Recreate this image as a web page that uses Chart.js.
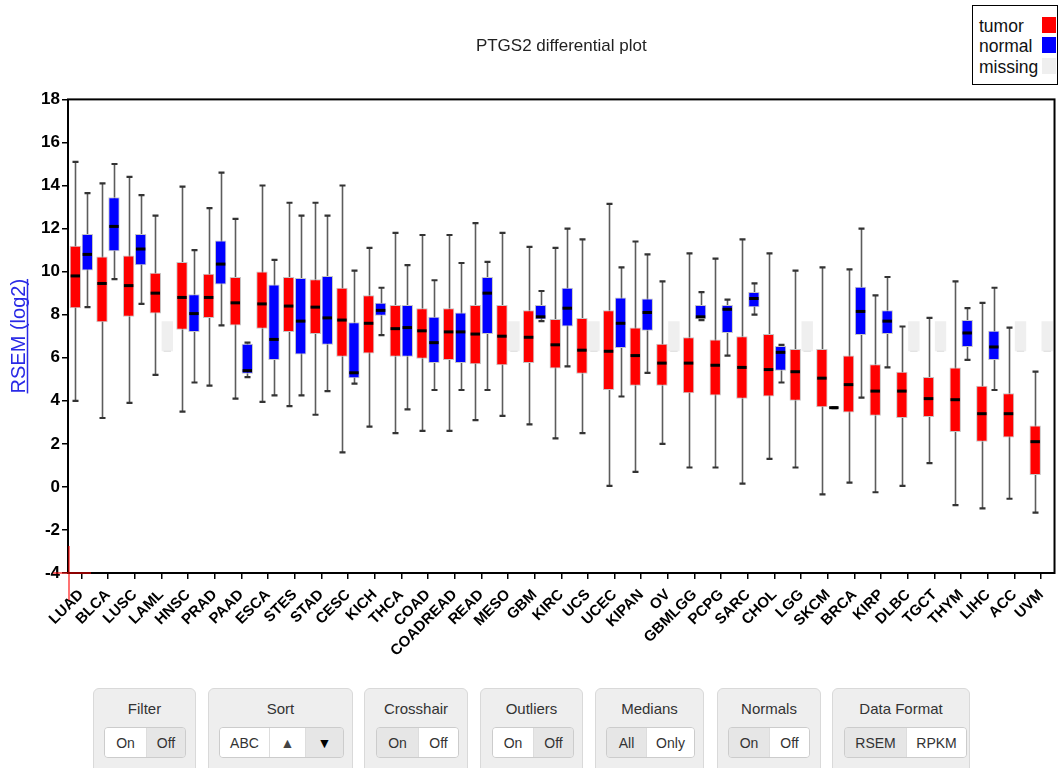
<!DOCTYPE html>
<html>
<head>
<meta charset="utf-8">
<title>PTGS2 differential plot</title>
<script src="https://cdn.jsdelivr.net/npm/chart.js@4.4.1/dist/chart.umd.min.js"></script>
<style>
  html, body { margin: 0; padding: 0; background: #fff; }
  body { width: 1061px; height: 768px; position: relative; overflow: hidden;
         font-family: 'Liberation Sans', Arial, sans-serif; }
  #plotWrap { position: absolute; left: 0; top: 0; width: 1061px; height: 680px; }
  #legendBox { position: absolute; left: 972px; top: 5px; width: 84px; height: 78px;
               border: 1px solid #000; background: #fff; }
  .lg-row { position: absolute; left: 6px; font-size: 17.5px; color: #111; line-height: 20px; }
  .lg-sw { position: absolute; left: 69px; width: 14px; height: 16px; }
  .ctl { position: absolute; top: 688px; height: 92px; background: #eee;
         border: 1px solid #d9d9d9; border-radius: 6px; box-sizing: border-box; }
  .ctl .cap { position: absolute; left: 0; right: 0; top: 11px; text-align: center;
              font-size: 15px; line-height: 18px; color: #333; }
  .ctl .grp { position: absolute; top: 38px; height: 31px; display: flex;
              border: 1px solid #ccc; border-radius: 4px; overflow: hidden; box-sizing: border-box; }
  .ctl .btn { height: 100%; display: flex; align-items: center; justify-content: center;
              font-size: 14px; color: #333; background: #fff; border-left: 1px solid #ddd;
              box-sizing: border-box; }
  .ctl .btn:first-child { border-left: none; }
  .ctl .btn.on { background: #e6e6e6; }
</style>
</head>
<body>
<div id="plotWrap"><canvas id="plot" width="1061" height="680"></canvas></div>

<div id="legendBox">
  <div class="lg-row" style="top:10px">tumor</div>
  <div class="lg-row" style="top:30px">normal</div>
  <div class="lg-row" style="top:51px">missing</div>
  <div class="lg-sw" style="top:11px;background:#ff0000"></div>
  <div class="lg-sw" style="top:31px;background:#0000ff"></div>
  <div class="lg-sw" style="top:52px;background:#efefef"></div>
</div>

<div class="ctl" style="left:93px;width:103px">
  <div class="cap">Filter</div>
  <div class="grp" style="left:10px"><div class="btn" style="width:41px">On</div><div class="btn on" style="width:39px">Off</div></div>
</div>
<div class="ctl" style="left:208px;width:145px">
  <div class="cap">Sort</div>
  <div class="grp" style="left:10px"><div class="btn" style="width:49px">ABC</div><div class="btn" style="width:36px;color:#444">&#9650;</div><div class="btn on" style="width:38px;color:#000">&#9660;</div></div>
</div>
<div class="ctl" style="left:364px;width:104px">
  <div class="cap">Crosshair</div>
  <div class="grp" style="left:11px"><div class="btn on" style="width:41px">On</div><div class="btn" style="width:40px">Off</div></div>
</div>
<div class="ctl" style="left:480px;width:103px">
  <div class="cap">Outliers</div>
  <div class="grp" style="left:11px"><div class="btn" style="width:40px">On</div><div class="btn on" style="width:40px">Off</div></div>
</div>
<div class="ctl" style="left:595px;width:109px">
  <div class="cap">Medians</div>
  <div class="grp" style="left:10px"><div class="btn on" style="width:39px">All</div><div class="btn" style="width:48px">Only</div></div>
</div>
<div class="ctl" style="left:717px;width:104px">
  <div class="cap">Normals</div>
  <div class="grp" style="left:10px"><div class="btn on" style="width:40px">On</div><div class="btn" style="width:40px">Off</div></div>
</div>
<div class="ctl" style="left:832px;width:138px">
  <div class="cap">Data Format</div>
  <div class="grp" style="left:11px"><div class="btn on" style="width:61px">RSEM</div><div class="btn" style="width:60px">RPKM</div></div>
</div>

<script>
// Cancer cohorts, in the order shown on the x axis
const CATEGORIES = ['LUAD','BLCA','LUSC','LAML','HNSC','PRAD','PAAD','ESCA','STES','STAD','CESC',
  'KICH','THCA','COAD','COADREAD','READ','MESO','GBM','KIRC','UCS','UCEC','KIPAN','OV','GBMLGG',
  'PCPG','SARC','CHOL','LGG','SKCM','BRCA','KIRP','DLBC','TGCT','THYM','LIHC','ACC','UVM'];

// Tumor samples: five-number summaries (RSEM, log2)
const TUMOR_MIN    = [4.0, 3.2, 3.9, 5.2, 3.5, 4.7, 4.1, 3.95, 3.75, 3.35, 1.6, 2.8, 2.5, 2.6, 2.6, 3.1, 3.3, 2.9, 2.25, 2.5, 0.05, 0.7, 2.0, 0.9, 0.9, 0.15, 1.3, 0.9, -0.35, 0.2, -0.25, 0.05, 1.1, -0.85, -1.0, -0.55, -1.2];
const TUMOR_Q1     = [8.3, 7.65, 7.9, 8.05, 7.3, 7.85, 7.5, 7.35, 7.2, 7.1, 6.05, 6.2, 6.05, 5.95, 5.9, 5.7, 5.65, 5.75, 5.5, 5.25, 4.5, 4.7, 4.7, 4.35, 4.25, 4.1, 4.2, 4.0, 3.7, 3.45, 3.3, 3.2, 3.25, 2.55, 2.1, 2.3, 0.55];
const TUMOR_MEDIAN = [9.8, 9.45, 9.35, 9.0, 8.8, 8.8, 8.55, 8.5, 8.4, 8.35, 7.75, 7.6, 7.35, 7.25, 7.2, 7.1, 7.0, 6.95, 6.6, 6.35, 6.3, 6.1, 5.75, 5.75, 5.65, 5.55, 5.45, 5.35, 5.05, 4.75, 4.45, 4.45, 4.1, 4.05, 3.4, 3.4, 2.1];
const TUMOR_Q3     = [11.2, 10.7, 10.75, 9.95, 10.45, 9.9, 9.75, 10.0, 9.75, 9.65, 9.25, 8.9, 8.45, 8.3, 8.3, 8.45, 8.45, 8.2, 7.8, 7.85, 8.2, 7.4, 6.65, 6.95, 6.85, 7.0, 7.1, 6.4, 6.4, 6.1, 5.7, 5.35, 5.1, 5.55, 4.7, 4.35, 2.85];
const TUMOR_MAX    = [15.1, 14.1, 14.4, 12.6, 13.95, 12.95, 12.45, 14.0, 13.2, 13.2, 14.0, 11.1, 11.8, 11.7, 11.7, 12.25, 11.8, 11.15, 11.1, 11.5, 13.15, 11.4, 9.55, 10.85, 10.6, 11.5, 10.85, 10.05, 10.2, 10.1, 8.9, 7.45, 7.85, 9.55, 8.55, 7.4, 5.35];

// Normal samples (null where the cohort has no normal tissue)
const NORMAL_MIN    = [8.35, 9.65, 8.5, null, 4.85, 7.5, 5.1, 4.25, 4.25, 4.45, 4.8, 7.05, 3.6, 4.5, 4.5, 4.5, null, 7.7, 5.6, null, 4.2, 5.3, null, 7.75, 6.1, 8.0, 4.85, null, 3.66, 4.15, 5.55, null, null, 5.9, 4.5, null, null];
const NORMAL_Q1     = [10.05, 10.95, 10.3, null, 7.2, 9.4, 5.25, 5.9, 6.15, 6.6, 5.05, 7.95, 6.05, 5.75, 5.75, 7.1, null, 7.78, 7.45, null, 6.45, 7.25, null, 7.8, 7.15, 8.35, 5.4, null, 3.66, 7.05, 7.1, null, null, 6.5, 5.9, null, null];
const NORMAL_MEDIAN = [10.8, 12.1, 11.05, null, 8.05, 10.35, 5.4, 6.85, 7.7, 7.85, 5.3, 8.2, 7.4, 6.7, 7.2, 9.0, null, 7.9, 8.3, null, 7.6, 8.1, null, 7.9, 8.25, 8.75, 6.25, null, 3.68, 8.15, 7.7, null, null, 7.15, 6.5, null, null];
const NORMAL_Q3     = [11.75, 13.45, 11.75, null, 8.95, 11.45, 6.65, 9.4, 9.7, 9.8, 7.65, 8.55, 8.45, 7.9, 8.1, 9.75, null, 8.45, 9.25, null, 8.8, 8.75, null, 8.45, 8.45, 9.05, 6.55, null, 3.7, 9.3, 8.2, null, null, 7.75, 7.25, null, null];
const NORMAL_MAX    = [13.65, 15.0, 13.55, null, 11.0, 14.6, 6.7, 10.55, 12.6, 12.6, 10.05, 9.25, 10.3, 9.6, 10.4, 10.45, null, 9.1, 12.0, null, 10.2, 10.8, null, 9.05, 8.7, 9.45, 6.6, null, 3.7, 12.0, 9.75, null, null, 8.3, 9.25, null, null];

// Placeholder band shown where normal data is missing
const MISSING_RANGE = [6.3, 7.7];

// Value axis
const Y_MIN = -4, Y_MAX = 18, Y_STEP = 2;
const Y_TITLE = 'RSEM (log2)';
const CHART_TITLE = 'PTGS2 differential plot';

const COLOR_TUMOR = '#ff0000', COLOR_NORMAL = '#0000ff', COLOR_MISSING = '#efefef';

const STATS = [
  { min: TUMOR_MIN, q1: TUMOR_Q1, med: TUMOR_MEDIAN, q3: TUMOR_Q3, max: TUMOR_MAX },
  { min: NORMAL_MIN, q1: NORMAL_Q1, med: NORMAL_MEDIAN, q3: NORMAL_Q3, max: NORMAL_MAX }
];

// Whiskers, caps and median bars drawn on top of the floating-bar boxes
const boxWhiskers = {
  id: 'boxWhiskers',
  beforeDatasetsDraw(chart) {
    const ctx = chart.ctx, y = chart.scales.y;
    ctx.save();
    STATS.forEach((s, d) => {
      chart.getDatasetMeta(d).data.forEach((bar, i) => {
        if (s.min[i] == null) return;
        const x = Math.round(bar.x) + 0.5;
        const yTop = y.getPixelForValue(s.max[i]);
        const yBot = y.getPixelForValue(s.min[i]);
        ctx.strokeStyle = '#5c5c5c';
        ctx.lineWidth = 1.6;
        ctx.beginPath();
        ctx.moveTo(x, yTop); ctx.lineTo(x, yBot);
        ctx.stroke();
        ctx.strokeStyle = '#333';
        ctx.lineWidth = 2.2;
        ctx.beginPath();
        ctx.moveTo(x - 3, yTop); ctx.lineTo(x + 3, yTop);
        ctx.moveTo(x - 3, yBot); ctx.lineTo(x + 3, yBot);
        ctx.stroke();
      });
    });
    ctx.restore();
  },
  afterDatasetsDraw(chart) {
    const ctx = chart.ctx, y = chart.scales.y;
    ctx.save();
    STATS.forEach((s, d) => {
      chart.getDatasetMeta(d).data.forEach((bar, i) => {
        const half = bar.width / 2;
        if (s.med[i] == null) {
          const ym = y.getPixelForValue(MISSING_RANGE[0]);
          ctx.strokeStyle = '#dcdcdc';
          ctx.lineWidth = 1;
          ctx.beginPath();
          ctx.moveTo(bar.x - half + 2, ym); ctx.lineTo(bar.x + half - 2, ym);
          ctx.stroke();
          return;
        }
        const ym = y.getPixelForValue(s.med[i]);
        ctx.strokeStyle = '#000';
        ctx.lineWidth = 3;
        ctx.beginPath();
        ctx.moveTo(bar.x - half + 1, ym); ctx.lineTo(bar.x + half - 1, ym);
        ctx.stroke();
      });
    });
    ctx.restore();
  },
  afterDraw(chart) {
    const ctx = chart.ctx, a = chart.chartArea, y = chart.scales.y;
    ctx.save();
    // plot frame
    ctx.strokeStyle = '#000';
    ctx.lineWidth = 2;
    ctx.strokeRect(a.left, a.top, a.right - a.left, a.bottom - a.top);
    // crosshair at the lower-left corner
    const cx = a.left + 1, cy = y.getPixelForValue(Y_MIN);
    ctx.strokeStyle = 'rgba(255,0,0,0.55)';
    ctx.lineWidth = 2;
    ctx.beginPath();
    ctx.moveTo(cx, cy - 27); ctx.lineTo(cx, cy + 27);
    ctx.moveTo(cx - 16, cy); ctx.lineTo(cx + 22, cy);
    ctx.stroke();
    // underlined value-axis caption
    ctx.translate(19, (a.top + a.bottom) / 2);
    ctx.rotate(-Math.PI / 2);
    ctx.font = "20px 'Liberation Sans', Arial, sans-serif";
    ctx.fillStyle = '#2a2ae6';
    ctx.textAlign = 'center';
    ctx.textBaseline = 'middle';
    ctx.fillText(Y_TITLE, 0, 0);
    const w = ctx.measureText(Y_TITLE).width;
    ctx.strokeStyle = '#2a2ae6';
    ctx.lineWidth = 1.5;
    ctx.beginPath();
    ctx.moveTo(-w / 2, 8.5); ctx.lineTo(w / 2, 8.5);
    ctx.stroke();
    ctx.restore();
  }
};

Chart.defaults.font.family = "'Liberation Sans', Arial, sans-serif";

new Chart(document.getElementById('plot'), {
  type: 'bar',
  data: {
    labels: CATEGORIES,
    datasets: [
      {
        label: 'tumor',
        data: CATEGORIES.map((c, i) => [TUMOR_Q1[i], TUMOR_Q3[i]]),
        backgroundColor: COLOR_TUMOR,
        borderColor: '#c6c6c6',
        borderWidth: 1,
        borderSkipped: false
      },
      {
        label: 'normal',
        data: CATEGORIES.map((c, i) => NORMAL_Q1[i] == null ? MISSING_RANGE.slice() : [NORMAL_Q1[i], NORMAL_Q3[i]]),
        backgroundColor: CATEGORIES.map((c, i) => NORMAL_Q1[i] == null ? COLOR_MISSING : COLOR_NORMAL),
        borderColor: CATEGORIES.map((c, i) => NORMAL_Q1[i] == null ? 'rgba(0,0,0,0)' : '#c6c6c6'),
        borderWidth: CATEGORIES.map((c, i) => NORMAL_Q1[i] == null ? 0 : 1),
        borderSkipped: false
      }
    ]
  },
  options: {
    responsive: false,
    animation: false,
    devicePixelRatio: 1,
    categoryPercentage: 0.9,
    barPercentage: 0.95,
    layout: { padding: { left: 0, right: 4, top: 0, bottom: 0 } },
    plugins: {
      legend: { display: false },
      tooltip: { enabled: false },
      title: {
        display: true,
        text: CHART_TITLE,
        color: '#222',
        fullSize: false,
        font: { size: 17, weight: 'normal' },
        padding: { top: 36, bottom: 43 }
      }
    },
    scales: {
      x: {
        offset: true,
        grid: { display: true, drawOnChartArea: false, drawTicks: true, tickLength: 6,
                color: '#000', lineWidth: 1.5, offset: false },
        border: { display: false },
        ticks: { autoSkip: false, minRotation: 45, maxRotation: 45, color: '#000', padding: 7,
                 font: { size: 15, weight: 'bold' } },
        afterFit(scale) { scale.height = 107; }
      },
      y: {
        min: Y_MIN,
        max: Y_MAX,
        grid: { drawOnChartArea: false, drawTicks: true, tickLength: 6, color: '#000', lineWidth: 1.5 },
        border: { display: false },
        ticks: { stepSize: Y_STEP, color: '#000', padding: 2, font: { size: 17, weight: 'bold' } },
        afterFit(scale) { scale.width = 68; }
      }
    }
  },
  plugins: [boxWhiskers]
});
</script>
</body>
</html>
